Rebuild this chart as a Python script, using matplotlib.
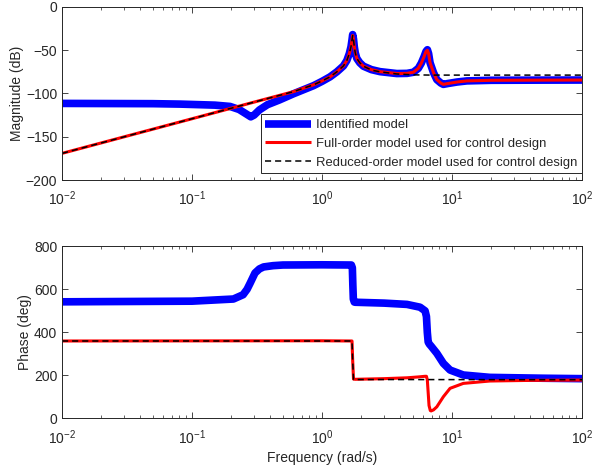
import matplotlib
matplotlib.use('Agg')
import matplotlib.pyplot as plt
from matplotlib.ticker import LogLocator, NullFormatter

plt.rcParams['font.family'] = ['Liberation Sans', 'DejaVu Sans']
plt.rcParams['mathtext.fontset'] = 'custom'
plt.rcParams['mathtext.rm'] = 'Liberation Sans'
plt.rcParams['mathtext.it'] = 'Liberation Sans:italic'
plt.rcParams['font.size'] = 10

# ---- magnitude (dB) ----
w_ident_mag = [0.01, 0.05, 0.081, 0.15, 0.196, 0.23, 0.26, 0.283, 0.30, 0.33,
               0.38, 0.47, 0.6, 0.86, 1.0, 1.152, 1.3, 1.46, 1.55, 1.62, 1.67,
               1.70, 1.72, 1.745, 1.77, 1.80, 1.85, 1.95, 2.08, 2.4, 2.79, 3.76,
               4.5, 5.04, 5.5, 5.8, 6.09, 6.3, 6.46, 6.6, 6.77, 7.2, 7.63, 8.2,
               8.57, 9.3, 10.9, 13, 20, 50, 100]
ident_mag = [-111.5, -111.8, -112.3, -113.5, -115, -118.5, -123.5, -127, -125, -119,
             -113, -107.5, -100.5, -91, -86, -80.8, -75, -68.2, -62, -54, -46,
             -38, -32, -37, -46, -53, -59.5, -64.5, -68.5, -72.5, -74.8, -77,
             -76.8, -75.5, -71, -65, -57.5, -51.5, -49.5, -54, -64.5, -76, -84, -88,
             -89.5, -88.5, -86.8, -85.5, -84.8, -84.6, -84.5]

w_full_mag = [0.01, 0.1, 0.3, 0.6, 0.86, 1.0, 1.152, 1.3, 1.46, 1.55, 1.62, 1.67,
              1.70, 1.72, 1.745, 1.77, 1.80, 1.85, 1.95, 2.08, 2.4, 2.79, 3.76,
              4.5, 5.04, 5.5, 5.8, 6.09, 6.3, 6.46, 6.6, 6.77, 7.2, 7.63, 8.2,
              8.57, 9.3, 10.9, 13, 20, 50, 100]
full_mag = [-169.2, -129.2, -110, -98, -90, -85.5, -80.8, -75, -68.2, -62, -54, -46,
            -38, -33, -38, -46, -53, -59.5, -64.5, -68.5, -72.5, -74.8, -77,
            -76.8, -75.5, -71, -65, -57.5, -51.5, -50, -54, -64.5, -76, -84, -88,
            -89.5, -88.5, -86.8, -85.5, -84.8, -84.6, -84.5]

w_red_mag = [0.01, 0.1, 0.3, 0.6, 0.86, 1.0, 1.152, 1.3, 1.46, 1.55, 1.62, 1.67,
             1.70, 1.72, 1.745, 1.77, 1.80, 1.85, 1.95, 2.08, 2.4, 2.79, 3.76,
             5.0, 7.0, 100]
red_mag = [-169.2, -129.2, -110, -98, -90, -85.5, -80.8, -75, -68.2, -62, -54, -46,
           -38, -33, -38, -46, -53, -59.5, -64.5, -68.5, -73, -75, -77.5,
           -78.5, -78.8, -78.8]

# ---- phase (deg) ----
w_ident_ph = [0.01, 0.1, 0.208, 0.247, 0.265, 0.28, 0.305, 0.33, 0.355, 0.42, 0.5,
              1.0, 1.68, 1.71, 1.725, 1.74, 1.77, 1.8, 3, 4.5, 5.67, 6.2, 6.35,
              6.45, 6.55, 6.7, 6.9, 7.63, 8.57, 9.65, 12.2, 19.5, 50, 100]
ident_ph = [542, 545, 555, 575, 600, 629, 676, 695, 704, 710, 713,
            714, 713, 700, 620, 555, 541, 540, 536, 530, 517, 500, 474,
            400, 355, 345, 336, 303, 256, 225, 202, 191, 187, 185]

w_full_ph = [0.01, 1.0, 1.70, 1.72, 1.745, 1.8, 3, 4.5, 5.5, 6.2, 6.35, 6.45,
             6.55, 6.65, 6.8, 6.9, 7.2, 7.63, 8.57, 9.65, 12.2, 19.5, 40, 100]
full_ph = [360, 361, 360, 270, 183, 182, 185, 189, 193, 196, 196, 180,
           120, 60, 37, 35, 40, 54, 101, 140, 163, 174, 177, 178.5]

w_red_ph = [0.01, 1.70, 1.72, 1.745, 100]
red_ph = [360, 360, 270, 181, 180]

axis_color = '#262626'

fig = plt.figure(figsize=(5.93, 4.75), dpi=100)
ax1 = fig.add_axes([0.1046, 0.621, 0.877, 0.3645])
ax2 = fig.add_axes([0.1046, 0.119, 0.877, 0.3625])

ax1.plot(w_ident_mag, ident_mag, color='blue', lw=5.5, solid_joinstyle='round',
         solid_capstyle='butt', label='Identified model')
ax1.plot(w_full_mag, full_mag, color='red', lw=2.2, solid_joinstyle='round',
         solid_capstyle='butt', label='Full-order model used for control design')
ax1.plot(w_red_mag, red_mag, color='black', lw=1.1, dashes=(4, 2.6),
         label='Reduced-order model used for control design')

ax2.plot(w_ident_ph, ident_ph, color='blue', lw=5.5, solid_joinstyle='round',
         solid_capstyle='butt')
ax2.plot(w_full_ph, full_ph, color='red', lw=2.2, solid_joinstyle='round')
ax2.plot(w_red_ph, red_ph, color='black', lw=1.1, dashes=(4, 2.6))

ax1.set_ylim(-200, 0)
ax1.set_yticks([-200, -150, -100, -50, 0])
ax1.set_ylabel('Magnitude (dB)', labelpad=1)

ax2.set_ylim(0, 800)
ax2.set_yticks([0, 200, 400, 600, 800])
ax2.set_ylabel('Phase (deg)', labelpad=1)
ax2.set_xlabel('Frequency (rad/s)', labelpad=3)

for ax in (ax1, ax2):
    ax.set_xscale('log')
    ax.set_xlim(1e-2, 1e2)
    ax.set_xticks([1e-2, 1e-1, 1e0, 1e1, 1e2])
    ax.set_xticklabels([r'$10^{-2}$', r'$10^{-1}$', r'$10^{0}$', r'$10^{1}$', r'$10^{2}$'])
    ax.xaxis.set_minor_locator(LogLocator(base=10, subs=range(2, 10), numticks=20))
    ax.xaxis.set_minor_formatter(NullFormatter())
    ax.tick_params(which='both', direction='in', top=True, right=True,
                   color=axis_color, labelcolor=axis_color, labelsize=10)
    ax.tick_params(which='major', length=4, width=0.6)
    ax.tick_params(which='minor', length=2.5, width=0.5)
    ax.tick_params(axis='x', pad=7)
    for s in ax.spines.values():
        s.set_color(axis_color)
        s.set_linewidth(0.7)
    ax.yaxis.label.set_color(axis_color)
    ax.xaxis.label.set_color(axis_color)

leg = ax1.legend(loc='lower right', bbox_to_anchor=(1.0, 0.04), borderaxespad=0,
                 fontsize=9.4, handlelength=3.5, handletextpad=0.4, labelspacing=0.5,
                 borderpad=0.35, fancybox=False, framealpha=1)
leg.get_frame().set_edgecolor(axis_color)
leg.get_frame().set_linewidth(0.7)
for t in leg.get_texts():
    t.set_color(axis_color)

fig.savefig('out.png', dpi=100)
